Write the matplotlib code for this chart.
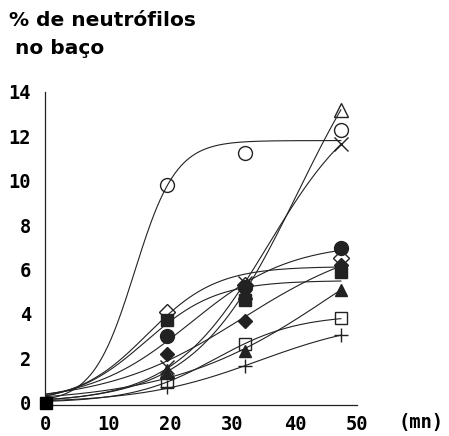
import numpy as np
import matplotlib
matplotlib.use("Agg")
import matplotlib.pyplot as plt

# tempos de colheita (mn)
tempos = [0, 19.5, 32, 47.4]

# % de neutrófilos no baço, uma lista por grupo
circulo_aberto = [0, 9.8, 11.25, 12.3]
triangulo_aberto = [0, 1.45, 5.0, 13.2]
cruz_x = [0, 1.6, 5.4, 11.65]
circulo_cheio = [0, 3.0, 5.2, 6.95]
losango_aberto = [0, 4.1, 5.3, 6.5]
quadrado_cheio = [0, 3.75, 4.65, 5.9]
losango_cheio = [0, 2.2, 3.7, 6.2]
triangulo_cheio = [0, 1.35, 2.35, 5.1]
quadrado_aberto = [0, 0.95, 2.65, 3.8]
cruz_mais = [0, 0.7, 1.65, 3.05]

x_ticks = [0, 10, 20, 30, 40, 50]
y_ticks = [0, 2, 4, 6, 8, 10, 12, 14]

grupos = [
    (circulo_aberto, "o", False, 10),
    (triangulo_aberto, "^", False, 10),
    (cruz_x, "x", True, 10),
    (circulo_cheio, "o", True, 10),
    (losango_aberto, "D", False, 8),
    (quadrado_cheio, "s", True, 8.5),
    (losango_cheio, "D", True, 7),
    (triangulo_cheio, "^", True, 8.5),
    (quadrado_aberto, "s", False, 8.5),
    (cruz_mais, "+", True, 10),
]

COR = "#222222"


def ajuste_logistico(t, y):
    # ajuste simples y = A / (1 + exp(-k (t - t0))) por busca em grade
    t = np.asarray(t, float)
    y = np.asarray(y, float)
    ks = np.linspace(0.02, 0.30, 250)
    t0s = np.linspace(0, 90, 361)
    K, T0 = np.meshgrid(ks, t0s)
    S = 1 / (1 + np.exp(-K[..., None] * (t - T0[..., None])))
    A = (S * y).sum(-1) / (S * S).sum(-1)
    err = ((A[..., None] * S - y) ** 2).sum(-1)
    i = np.unravel_index(err.argmin(), err.shape)
    return A[i], K[i], T0[i]


fig = plt.figure(figsize=(4.49, 4.36), dpi=100)
ax = fig.add_axes([0.1002, 0.0711, 0.695, 0.718])

xx = np.linspace(0, tempos[-1], 200)
for valores, marca, cheio, tam in grupos:
    A, k, t0 = ajuste_logistico(tempos, valores)
    ax.plot(xx, A / (1 + np.exp(-k * (xx - t0))), color=COR, lw=0.8)
    if marca in ("x", "+"):
        ax.plot(tempos[1:], valores[1:], ls="none", marker=marca, ms=tam,
                mew=1.0, color=COR, clip_on=False)
    else:
        ax.plot(tempos[1:], valores[1:], ls="none", marker=marca, ms=tam,
                mew=1.0, mec=COR, mfc=COR if cheio else "none", clip_on=False)

# ponto inicial comum a todos os grupos
ax.plot([0], [0], ls="none", marker="s", ms=9, color="black", clip_on=False, zorder=5)

ax.set_xlim(-0.15, 50)
ax.set_ylim(-0.1, 13.95)
ax.set_xticks(x_ticks)
ax.set_yticks(y_ticks)
ax.set_xticklabels([str(v) for v in x_ticks])
ax.set_yticklabels([str(v) for v in y_ticks])
ax.tick_params(length=0, labelsize=13.5)
ax.tick_params(axis="x", pad=7)
ax.tick_params(axis="y", pad=10)
for lab in ax.get_xticklabels() + ax.get_yticklabels():
    lab.set_family("DejaVu Sans Mono")
    lab.set_weight("bold")
for s in ("top", "right"):
    ax.spines[s].set_visible(False)
for s in ("left", "bottom"):
    ax.spines[s].set_linewidth(0.9)
    ax.spines[s].set_color(COR)

fig.text(0.938, 0.031, "(mn)", family="DejaVu Sans Mono", weight="bold",
         fontsize=13.5, ha="center", va="center")
fig.text(0.02, 0.952, "% de neutrófilos", family="DejaVu Sans", weight="bold",
         fontsize=14.5, ha="left", va="center")
fig.text(0.034, 0.889, "no baço", family="DejaVu Sans", weight="bold",
         fontsize=14.5, ha="left", va="center")

fig.savefig("out.png", dpi=100)
